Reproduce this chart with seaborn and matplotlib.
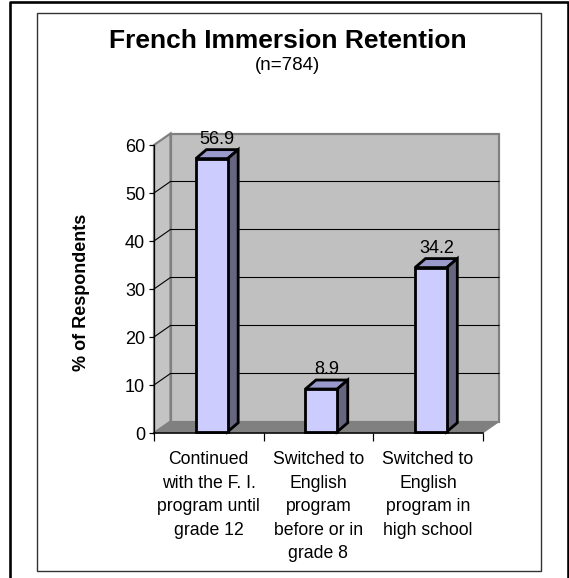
import numpy as np
import matplotlib
matplotlib.use("Agg")
import matplotlib.pyplot as plt
import seaborn as sns
from matplotlib.patches import Polygon, Rectangle
from matplotlib.lines import Line2D
from matplotlib.transforms import IdentityTransform, offset_copy

# data
categories = ["Continued\nwith the F. I.\nprogram until\ngrade 12",
              "Switched to\nEnglish\nprogram\nbefore or in\ngrade 8",
              "Switched to\nEnglish\nprogram in\nhigh school"]
values = [56.9, 8.9, 34.2]
yticks = [0, 10, 20, 30, 40, 50, 60]

sns.set_style("white")
plt.rcParams['font.family'] = ['Liberation Sans', 'DejaVu Sans']
plt.rcParams['text.color'] = 'black'
plt.rcParams['xtick.color'] = 'black'
plt.rcParams['ytick.color'] = 'black'
plt.rcParams['axes.labelcolor'] = 'black'

W, H = 569, 578
PT = 72 / 100.0  # points per pixel
fig = plt.figure(figsize=(W / 100, H / 100), dpi=100)
ax = fig.add_axes([154 / W, (H - 433) / H, 328.7 / W, 288 / H])
ax.set_facecolor('none')

sns.barplot(x=categories, y=values, color='#ccccff', saturation=1,
            edgecolor='black', linewidth=2.8 * PT, width=0.29, ax=ax)
ax.set_xlim(-0.5, 2.5)
ax.set_ylim(0, 60)
bars = list(ax.patches)

# 3d look: wall depth and bar depth in pixels
D = np.array([16.5, 11.5])
d = np.array([10.5, 9.0])
shift = (D - d) / 2

def px(x, y):
    return ax.transData.transform((x, y))

def poly(pts, fc, ec, lw, z):
    p = Polygon(pts, closed=True, facecolor=fc, edgecolor=ec, linewidth=lw,
                transform=IdentityTransform(), clip_on=False, zorder=z,
                joinstyle='miter')
    ax.add_patch(p)

x0, x1 = ax.get_xlim()
y0, y1 = ax.get_ylim()
# walls + floor
poly([px(x0, y0) + D, px(x1, y0) + D, px(x1, y1) + D, px(x0, y1) + D],
     '#c0c0c0', '#808080', 2.2 * PT, 0.2)
poly([px(x0, y0), px(x0, y0) + D, px(x0, y1) + D, px(x0, y1)],
     '#c4c4c4', '#808080', 2.2 * PT, 0.2)
poly([px(x0, y0), px(x1, y0), px(x1, y0) + D, px(x0, y0) + D],
     '#808080', '#808080', 1.0 * PT, 0.3)
for v in yticks[1:-1]:
    a = px(x0, v)
    b = px(x1, v)
    ax.add_line(Line2D([a[0], a[0] + D[0], b[0] + D[0]], [a[1], a[1] + D[1], b[1] + D[1]],
                       color='black', lw=1.1 * PT, transform=IdentityTransform(),
                       clip_on=False, zorder=0.4))

# bars: front face from seaborn, top and side faces added
for p in bars:
    bx0 = p.get_x()
    bx1 = bx0 + p.get_width()
    h = p.get_height()
    p.set_transform(offset_copy(ax.transData, fig=fig, x=shift[0], y=shift[1], units='dots'))
    p.set_clip_on(False)
    p.set_zorder(3)
    p.set_joinstyle('miter')
    a = px(bx0, h) + shift
    b = px(bx1, h) + shift
    c = px(bx1, 0) + shift
    poly([a, b, b + d, a + d], '#9999cc', 'black', 2.8 * PT, 2.5)
    poly([b, c, c + d, b + d], '#666680', 'black', 2.8 * PT, 2.5)
    ax.annotate(f"{h:.1f}", xy=((bx0 + bx1) / 2, h), xytext=(8.5, 20.5),
                textcoords='offset pixels', ha='center', va='center', fontsize=13)

# axes
for s in ['top', 'right']:
    ax.spines[s].set_visible(False)
ax.spines['left'].set_color('black')
ax.spines['left'].set_linewidth(1.2 * PT)
ax.spines['bottom'].set_color('black')
ax.spines['bottom'].set_linewidth(1.5 * PT)
ax.spines['left'].set_zorder(4)
ax.spines['bottom'].set_zorder(4)

ax.set_yticks(yticks)
ax.tick_params(axis='y', left=True, length=5 * PT, width=1.2 * PT, pad=4 * PT,
               labelsize=13, color='black', labelcolor='black')
ax.set_xticks([0, 1, 2], labels=categories, fontsize=12.7, linespacing=1.5)
ax.set_xticks([-0.5, 0.5, 1.5, 2.5], minor=True)
ax.tick_params(axis='x', which='major', bottom=False, length=0, pad=13, labelcolor='black')
ax.tick_params(axis='x', which='minor', bottom=True, length=8 * PT, width=1.2 * PT, color='black')
ax.set_xlabel('')
ax.set_ylabel('')

# titles
fig.text(288 / W, 1 - 48.5 / H, "French Immersion Retention", ha='center', va='baseline',
         fontsize=19, fontweight='bold')
fig.text(288 / W, 1 - 70 / H, "(n=784)", ha='center', va='baseline', fontsize=13.5)
fig.text(81 / W, 1 - 292 / H, "% of Respondents", ha='center', va='center',
         rotation=90, fontsize=13, fontweight='bold')

# frames
fig.add_artist(Rectangle((37 / W, (H - 571) / H), (540.7 - 37) / W, (571 - 12.5) / H,
                         transform=fig.transFigure, fill=False, edgecolor='#333333',
                         linewidth=1.4 * PT))
fig.add_artist(Line2D([9.8 / W, 9.8 / W, 567.8 / W, 567.8 / W], [0, 1 - 2 / H, 1 - 2 / H, 0],
                      transform=fig.transFigure, color='black', linewidth=2.6 * PT))

fig.savefig("out.png", dpi=100)
